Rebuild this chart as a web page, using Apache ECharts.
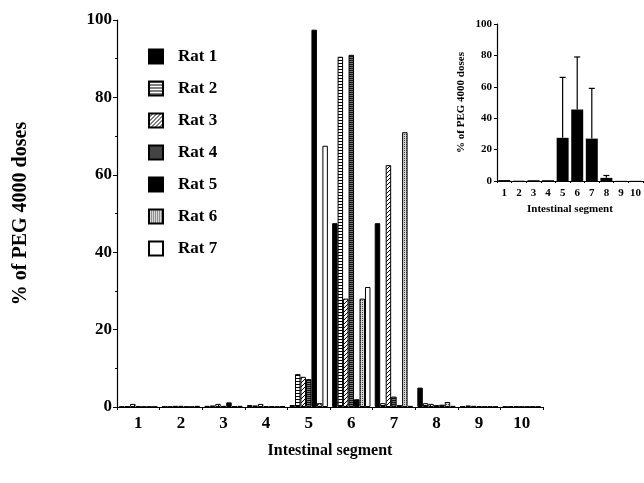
<!DOCTYPE html>
<html><head><meta charset="utf-8">
<script src="https://cdn.jsdelivr.net/npm/echarts@6/dist/echarts.min.js"></script>
<style>html,body{margin:0;padding:0;background:#fff}#c{width:644px;height:483px}</style>
</head><body><div id="c"></div>
<script>
var segments = ['1','2','3','4','5','6','7','8','9','10'];
var ratNames = ['Rat 1','Rat 2','Rat 3','Rat 4','Rat 5','Rat 6','Rat 7'];
var rat1 = [0.1, 0.1, 0.3, 0.5, 0.5, 47.5, 47.5, 5.0, 0.2, 0.1];
var rat2 = [0.2, 0.1, 0.4, 0.4, 8.5, 90.5, 1.0, 1.0, 0.4, 0.2];
var rat3 = [0.8, 0.3, 0.8, 0.8, 7.8, 28.0, 62.5, 0.8, 0.3, 0.2];
var rat4 = [0.2, 0.3, 0.3, 0.2, 7.2, 91.0, 2.7, 0.5, 0.2, 0.1];
var rat5 = [0.1, 0.1, 1.2, 0.2, 97.5, 2.0, 0.5, 0.6, 0.1, 0.1];
var rat6 = [0.1, 0.1, 0.2, 0.1, 1.0, 28.0, 71.0, 1.3, 0.2, 0.1];
var rat7 = [0.1, 0.3, 0.3, 0.2, 67.5, 31.0, 0.3, 0.3, 0.1, 0.1];
var meanVals = [0.6, 0.2, 0.5, 0.5, 27.5, 45.5, 27.0, 2.0, 0.1, 0.1];
var sdTops   = [null, null, null, null, 66, 79, 59, 3.5, null, null];
var yTicks = [0, 20, 40, 60, 80, 100];

var ratData = [rat1, rat2, rat3, rat4, rat5, rat6, rat7];

function pat(w, h, draw) {
  var c = document.createElement('canvas'); c.width = w; c.height = h;
  var g = c.getContext('2d'); draw(g, w, h);
  return { image: c, repeat: 'repeat' };
}
var fills = [
  '#000',
  pat(4, 3, function (g, w, h) { g.fillStyle = '#fff'; g.fillRect(0, 0, w, h); g.fillStyle = '#000'; g.fillRect(0, 0, w, 1); }),
  pat(4, 4, function (g, w, h) { g.fillStyle = '#fff'; g.fillRect(0, 0, w, h); g.fillStyle = '#000';
    g.fillRect(3, 0, 1, 1); g.fillRect(2, 1, 1, 1); g.fillRect(1, 2, 1, 1); g.fillRect(0, 3, 1, 1); }),
  pat(2, 2, function (g, w, h) { g.fillStyle = '#111'; g.fillRect(0, 0, w, 1); g.fillStyle = '#777'; g.fillRect(0, 1, w, 1); }),
  '#000',
  pat(2, 2, function (g, w, h) { g.fillStyle = '#d8d8d8'; g.fillRect(0, 0, w, h); g.fillStyle = '#444';
    g.fillRect(0, 0, 1, 1); }),
  '#fff'
];

var serif = '"Liberation Serif", "DejaVu Serif", serif';
var series = ratNames.map(function (n, i) {
  return {
    name: n, type: 'bar', xAxisIndex: 0, yAxisIndex: 0,
    data: ratData[i], barGap: '0%', barCategoryGap: '10%',
    itemStyle: { color: fills[i], borderColor: '#000', borderWidth: 1 },
    animation: false
  };
});
series.push({
  type: 'bar', xAxisIndex: 1, yAxisIndex: 1, data: meanVals,
  barCategoryGap: '18%', itemStyle: { color: '#000' }, animation: false
});
series.push({
  type: 'custom', xAxisIndex: 1, yAxisIndex: 1, animation: false,
  data: meanVals.map(function (m, i) { return [i, m, sdTops[i]]; }),
  renderItem: function (params, api) {
    if (api.value(2) == null || isNaN(api.value(2))) return null;
    var p0 = api.coord([api.value(0), api.value(1)]);
    var p1 = api.coord([api.value(0), api.value(2)]);
    return { type: 'group', children: [
      { type: 'line', shape: { x1: p0[0], y1: p0[1], x2: p1[0], y2: p1[1] }, style: { stroke: '#000', lineWidth: 1.2 } },
      { type: 'line', shape: { x1: p1[0] - 3, y1: p1[1], x2: p1[0] + 3, y2: p1[1] }, style: { stroke: '#000', lineWidth: 1.2 } }
    ] };
  }
});

var axLine = { show: true, lineStyle: { color: '#000', width: 1.2 } };
var option = {
  backgroundColor: '#fff',
  animation: false,
  legend: {
    data: ratNames, orient: 'vertical', left: 148, top: 48, padding: 0, icon: 'rect',
    itemWidth: 14, itemHeight: 14, itemGap: 15,
    textStyle: { fontFamily: serif, fontWeight: 'bold', fontSize: 17, color: '#000', padding: [0, 0, 0, 10] }
  },
  grid: [
    { left: 117, right: 101, top: 20, bottom: 76 },
    { left: 497, width: 147, top: 24, height: 157 }
  ],
  xAxis: [
    { type: 'category', gridIndex: 0, data: segments,
      name: 'Intestinal segment', nameLocation: 'middle', nameGap: 36,
      nameTextStyle: { fontFamily: serif, fontWeight: 'bold', fontSize: 16, color: '#000' },
      axisLine: axLine, axisTick: { show: true, length: 3, lineStyle: { color: '#000' } },
      axisLabel: { fontFamily: serif, fontWeight: 'bold', fontSize: 17, color: '#000', margin: 8 } },
    { type: 'category', gridIndex: 1, data: segments,
      name: 'Intestinal segment', nameLocation: 'middle', nameGap: 23,
      nameTextStyle: { fontFamily: serif, fontWeight: 'bold', fontSize: 11, color: '#000' },
      axisLine: axLine, axisTick: { show: true, length: 2, lineStyle: { color: '#000' } },
      axisLabel: { fontFamily: serif, fontWeight: 'bold', fontSize: 11, color: '#000', margin: 7, interval: 0 } }
  ],
  yAxis: [
    { type: 'value', gridIndex: 0, min: 0, max: 100, interval: 20,
      name: '% of PEG 4000 doses', nameLocation: 'middle', nameGap: 86, nameRotate: 90,
      nameTextStyle: { fontFamily: serif, fontWeight: 'bold', fontSize: 20, color: '#000' },
      axisLine: axLine, axisTick: { show: true, length: 4, lineStyle: { color: '#000' } },
      minorTick: { show: true, splitNumber: 2, length: 2, lineStyle: { color: '#000' } },
      splitLine: { show: false },
      axisLabel: { fontFamily: serif, fontWeight: 'bold', fontSize: 17, color: '#000', margin: 5,
        formatter: function (v) { return yTicks.indexOf(v) >= 0 ? String(v) : ''; } } },
    { type: 'value', gridIndex: 1, min: 0, max: 100, interval: 20,
      name: '% of PEG 4000 doses', nameLocation: 'middle', nameGap: 30, nameRotate: 90,
      nameTextStyle: { fontFamily: serif, fontWeight: 'bold', fontSize: 11, color: '#000' },
      axisLine: axLine, axisTick: { show: true, length: 3, lineStyle: { color: '#000' } },
      splitLine: { show: false },
      axisLabel: { fontFamily: serif, fontWeight: 'bold', fontSize: 11, color: '#000', margin: 5 } }
  ],
  series: series
};
var chart = echarts.init(document.getElementById('c'), null, { renderer: 'canvas' });
chart.setOption(option);
</script></body></html>
